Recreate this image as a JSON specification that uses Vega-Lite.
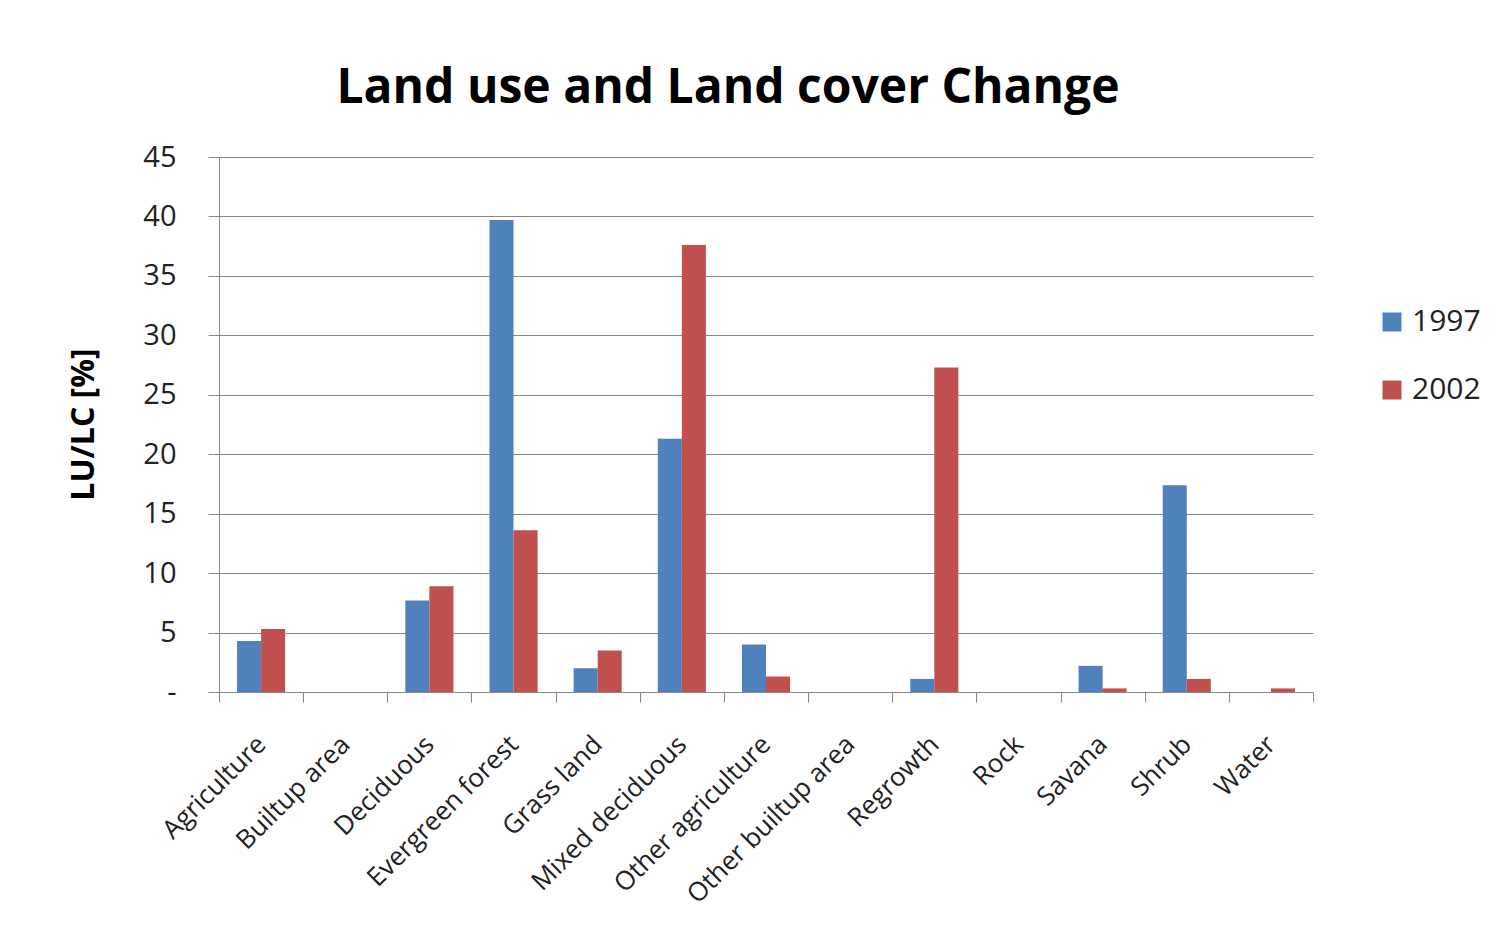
{
  "$schema": "https://vega.github.io/schema/vega-lite/v6.json",
  "autosize": {"type": "none"},
  "padding": {"left": 219, "top": 157, "right": 192, "bottom": 254},
  "width": 1094,
  "height": 535,
  "background": "white",
  "title": {
    "text": "Land use and Land cover Change",
    "font": "Open Sans",
    "fontSize": 48,
    "fontWeight": "bold",
    "color": "#000000",
    "anchor": "middle",
    "dx": -38,
    "offset": 30
  },
  "data": {
    "values": [
      {"category": "Agriculture", "year": "1997", "value": 4.3},
      {"category": "Agriculture", "year": "2002", "value": 5.3},
      {"category": "Builtup area", "year": "1997", "value": 0},
      {"category": "Builtup area", "year": "2002", "value": 0},
      {"category": "Deciduous", "year": "1997", "value": 7.7},
      {"category": "Deciduous", "year": "2002", "value": 8.9},
      {"category": "Evergreen forest", "year": "1997", "value": 39.7},
      {"category": "Evergreen forest", "year": "2002", "value": 13.6},
      {"category": "Grass land", "year": "1997", "value": 2.0},
      {"category": "Grass land", "year": "2002", "value": 3.5},
      {"category": "Mixed deciduous", "year": "1997", "value": 21.3},
      {"category": "Mixed deciduous", "year": "2002", "value": 37.6},
      {"category": "Other agriculture", "year": "1997", "value": 4.0},
      {"category": "Other agriculture", "year": "2002", "value": 1.3},
      {"category": "Other builtup area", "year": "1997", "value": 0},
      {"category": "Other builtup area", "year": "2002", "value": 0},
      {"category": "Regrowth", "year": "1997", "value": 1.1},
      {"category": "Regrowth", "year": "2002", "value": 27.3},
      {"category": "Rock", "year": "1997", "value": 0},
      {"category": "Rock", "year": "2002", "value": 0},
      {"category": "Savana", "year": "1997", "value": 2.2},
      {"category": "Savana", "year": "2002", "value": 0.3},
      {"category": "Shrub", "year": "1997", "value": 17.4},
      {"category": "Shrub", "year": "2002", "value": 1.1},
      {"category": "Water", "year": "1997", "value": 0},
      {"category": "Water", "year": "2002", "value": 0.3}
    ]
  },
  "mark": {"type": "bar"},
  "encoding": {
    "x": {
      "field": "category",
      "type": "nominal",
      "sort": null,
      "scale": {"paddingInner": 0, "paddingOuter": 0},
      "axis": {
        "title": null,
        "labelAngle": -45,
        "labelAlign": "right",
        "labelBaseline": "middle",
        "labelFont": "Open Sans",
        "labelFontSize": 26,
        "labelColor": "#222222",
        "labelPadding": 38,
        "tickBand": "extent",
        "tickSize": 10,
        "tickColor": "#888888",
        "domainColor": "#888888",
        "labelOverlap": false,
        "labelLimit": 400,
        "grid": false
      }
    },
    "xOffset": {
      "field": "year",
      "type": "nominal",
      "scale": {"paddingInner": 0, "paddingOuter": 0.75}
    },
    "y": {
      "field": "value",
      "type": "quantitative",
      "scale": {"domain": [0, 45], "nice": false},
      "axis": {
        "values": [0, 5, 10, 15, 20, 25, 30, 35, 40, 45],
        "labelExpr": "datum.value == 0 ? '-' : datum.label",
        "title": "LU/LC [%]",
        "titleFont": "Open Sans",
        "titleFontSize": 32,
        "titleFontWeight": "bold",
        "titleColor": "#000000",
        "titleAngle": -90,
        "titleX": -136,
        "titleY": 267,
        "titleAlign": "center",
        "titleBaseline": "middle",
        "labelFont": "Open Sans",
        "labelFontSize": 29,
        "labelColor": "#222222",
        "labelPadding": 32,
        "tickSize": 11,
        "tickColor": "#888888",
        "domainColor": "#888888",
        "gridColor": "#888888",
        "grid": true
      }
    },
    "color": {
      "field": "year",
      "type": "nominal",
      "scale": {"domain": ["1997", "2002"], "range": ["#4F81BD", "#C0504D"]},
      "legend": {
        "title": null,
        "orient": "none",
        "legendX": 1158,
        "legendY": 150,
        "symbolType": "square",
        "symbolSize": 360,
        "symbolStrokeWidth": 0,
        "labelFont": "Open Sans",
        "labelFontSize": 30,
        "labelColor": "#222222",
        "rowPadding": 38,
        "labelOffset": 5
      }
    }
  },
  "config": {
    "view": {"stroke": null}
  }
}
